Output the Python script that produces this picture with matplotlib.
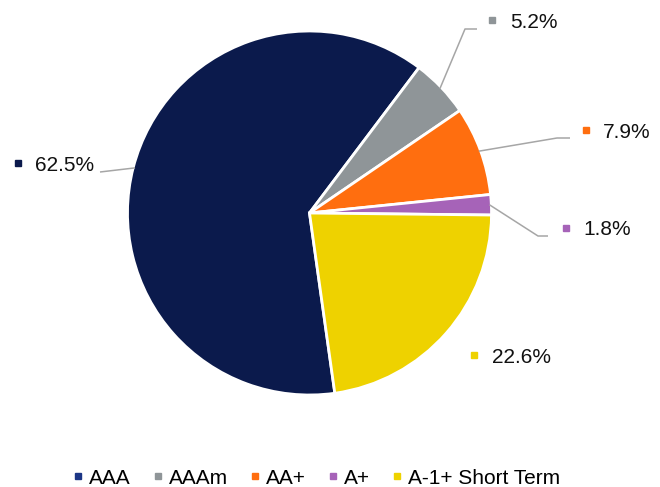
import matplotlib
matplotlib.use("Agg")
import matplotlib.pyplot as plt
from matplotlib.lines import Line2D
import numpy as np

plt.rcParams['font.family'] = ['Liberation Sans', 'DejaVu Sans']

categories = ["AAA", "AAAm", "AA+", "A+", "A-1+ Short Term"]
values = [62.5, 5.2, 7.9, 1.8, 22.6]
value_labels = ["62.5%", "5.2%", "7.9%", "1.8%", "22.6%"]
colors = ["#0B1A4C", "#8F9598", "#FF6E0F", "#A663B8", "#EED200"]
legend_colors = ["#1C3686", "#8F9598", "#FF6E0F", "#A663B8", "#EED200"]

W, H = 660, 487
fig = plt.figure(figsize=(W / 100, H / 100), dpi=100)
ax = fig.add_axes([0, 0, 1, 1])


def P(x, y):
    """pixel (top-left origin) -> data coords (y up)"""
    return x, H - y


cx, cy = P(309.5, 213)
R = 182
wedges, _ = ax.pie(values, colors=colors, startangle=278, counterclock=False,
                   center=(cx, cy), radius=R, explode=[0.012] * 5,
                   wedgeprops=dict(edgecolor='white', linewidth=2.0),
                   frame=True)
ax.set_xlim(0, W)
ax.set_ylim(0, H)
ax.set_aspect('equal')
ax.axis('off')

# label layout in pixels: marker (x, y), text (x, baseline), leader elbow points
label_pos = [
    ((18, 163), (35, 171), [(100, 172)]),
    ((492, 20), (510, 28), [(465, 29), (477, 29)]),
    ((586, 130), (603, 138), [(557, 138), (570, 138)]),
    ((566, 228), (583, 235), [(538, 236), (548, 236)]),
    ((474, 355), (492, 363), None),
]

FS = 15
for w, (mk, tx, leader), lab, col in zip(wedges, label_pos, value_labels, colors):
    mx, my = P(*mk)
    ax.plot([mx], [my], marker='s', markersize=4.3, color=col, linestyle='none')
    x, y = P(*tx)
    ax.text(x, y, lab, fontsize=FS, va='baseline', ha='left', color='#111111')
    if leader is not None:
        mid = np.deg2rad((w.theta1 + w.theta2) / 2)
        sx = w.center[0] + w.r * 0.99 * np.cos(mid)
        sy = w.center[1] + w.r * 0.99 * np.sin(mid)
        pts = [(sx, sy)] + [P(*p) for p in leader]
        ax.plot([p[0] for p in pts], [p[1] for p in pts],
                color='#A6A6A6', linewidth=1.1, solid_capstyle='butt')

handles = [Line2D([0], [0], marker='s', color='none', markerfacecolor=c,
                  markeredgecolor=c, markersize=4.3) for c in legend_colors]
ax.legend(handles, categories, loc='center',
          bbox_to_anchor=(316.5 / W, 1 - 478 / H),
          ncol=5, frameon=False, fontsize=FS, handlelength=0.5,
          handletextpad=0.28, columnspacing=1.05, borderpad=0,
          borderaxespad=0)

fig.savefig("out.png", dpi=100)
